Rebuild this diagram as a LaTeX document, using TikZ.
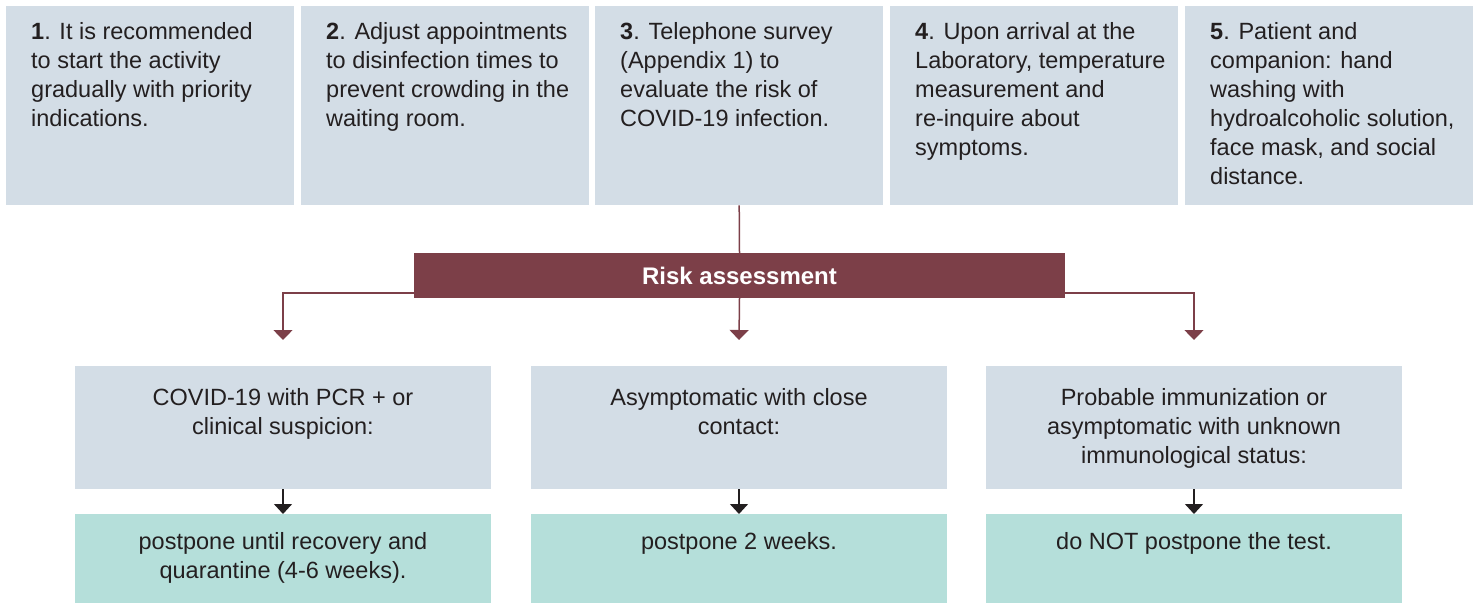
\documentclass[tikz,border=0pt]{standalone}
\usepackage{fontspec}
\setmainfont{Liberation Sans}
\usepackage{xcolor}
\usetikzlibrary{positioning}
\usetikzlibrary{arrows.meta}
\definecolor{cardblue}{HTML}{D3DDE6}
\definecolor{cardteal}{HTML}{B5DFDA}
\definecolor{riskred}{HTML}{7C3F48}
\definecolor{inkgray}{HTML}{231F20}
\tikzset{
  stepcard/.style={%
    fill=cardblue,
    inner sep=0,
    anchor=north west,
    minimum width=288pt,
    minimum height=199pt,
  },
  cardtext/.style={%
    inner sep=0,
    text=inkgray,
    font=\fontsize{23.5}{29}\selectfont,
  },
  casecard/.style={fill=cardblue, inner sep=0, anchor=north, minimum width=416pt, minimum height=123pt},
  actcard/.style={fill=cardteal, inner sep=0, anchor=north, minimum width=416pt, minimum height=89pt},
  riskbar/.style={%
    fill=riskred,
    text=white,
    inner sep=0,
    minimum width=651pt,
    minimum height=45pt,
    font=\bfseries\fontsize{24}{29}\selectfont,
  },
  riskline/.style={draw=riskred, line width=1.5pt, -{Triangle[width=19pt,length=10pt]}},
  actline/.style={draw=inkgray, line width=1.4pt, -{Triangle[width=18pt,length=10pt]}},
}
\newcommand\StepCard[3]{% name, left edge, text
  \node (#1) [stepcard] at (#2,6) {};
  \node (#1t) [cardtext, align=left, below right=16pt and 25pt of #1.north west] {#3};
}
\newcommand\CasePair[4]{% name, centre, case text, what to do
  \node (case#1) [casecard] at (#2,366) {};
  \node (case#1t) [cardtext, align=center, below=22pt of case#1.north] {#3};
  \node (act#1) [actcard] at (#2,514) {};
  \node (act#1t) [cardtext, align=center, below=18pt of act#1.north] {#4};
  \draw [actline] (case#1) -- (act#1);
}

\begin{document}
\begin{tikzpicture}[x=1pt,y=-1pt]
    \useasboundingbox (0,0) rectangle (1478,603);
    \StepCard{step1}{6}{\textbf{1}. It is recommended\\to start the activity\\gradually with priority\\indications.}
    \StepCard{step2}{301}{\textbf{2}. Adjust appointments\\to disinfection times to\\prevent crowding in the\\waiting room.}
    \StepCard{step3}{595}{\textbf{3}. Telephone survey\\(Appendix 1) to\\evaluate the risk of\\COVID-19 infection.}
    \StepCard{step4}{890}{\textbf{4}. Upon arrival at the\\Laboratory, temperature\\measurement and\\re-inquire about\\symptoms.}
    \StepCard{step5}{1185}{\textbf{5}. Patient and\\companion: hand\\washing with\\hydroalcoholic solution,\\face mask, and social\\distance.}

    \node (risk) [riskbar] at (739.5,275.5) {Risk assessment};
    \draw [riskred, line width=1.5pt] (step3.south) -- (risk.north);

    \CasePair{1}{283}{COVID-19 with PCR + or\\clinical suspicion:}{postpone until recovery and\\quarantine (4-6 weeks).}
    \CasePair{2}{739}{Asymptomatic with close\\contact:}{postpone 2 weeks.}
    \CasePair{3}{1194}{Probable immunization or\\asymptomatic with unknown\\immunological status:}{do NOT postpone the test.}

    \coordinate (in1) at ([yshift=26pt]case1.north);
    \coordinate (in2) at ([yshift=26pt]case2.north);
    \coordinate (in3) at ([yshift=26pt]case3.north);
    \draw [riskline] ([yshift=5pt]risk.south west) -| (in1);
    \draw [riskline] (risk.south) -- (in2);
    \draw [riskline] ([yshift=5pt]risk.south east) -| (in3);
\end{tikzpicture}
\end{document}
